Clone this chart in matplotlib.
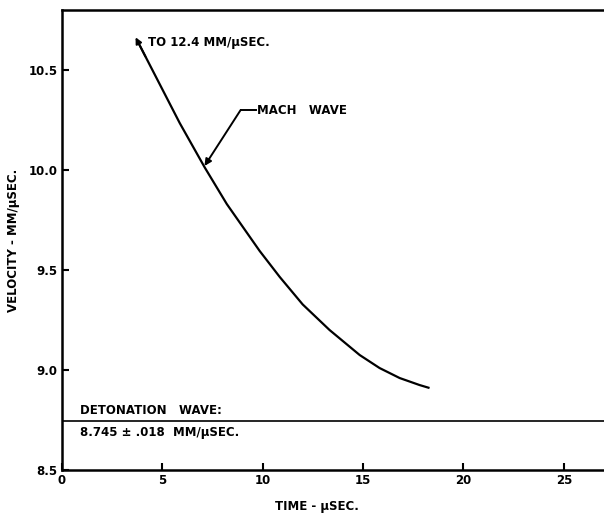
import numpy as np
import matplotlib.pyplot as plt

# Mach wave velocity vs time
time_us = [3.73, 5.87, 7.11, 8.21, 9.85, 10.85, 11.99, 13.33, 14.83,
           15.82, 16.82, 17.81, 18.31]
velocity = [10.651, 10.234, 10.013, 9.830, 9.595, 9.465, 9.328, 9.200, 9.075,
            9.010, 8.960, 8.925, 8.910]

DETONATION_V = 8.745
x_ticks = [0, 5, 10, 15, 20, 25]
y_ticks = [8.5, 9.0, 9.5, 10.0, 10.5]
y_ticklabels = ["8.5", "9.0", "9.5", "10.0", "10.5"]

plt.rcParams["font.family"] = ["DejaVu Sans"]
plt.rcParams["font.weight"] = "bold"

fig = plt.figure(figsize=(6.04, 5.16), dpi=100)
ax = fig.add_axes([0.1026, 0.0891, 0.8974, 0.8915])

ax.plot(time_us, velocity, color="black", lw=1.6, solid_capstyle="butt",
        solid_joinstyle="round")
ax.axhline(DETONATION_V, color="black", lw=1.2)

# arrowhead at the start of the curve, along the first segment
dx = time_us[1] - time_us[0]
dy = velocity[1] - velocity[0]
ax.annotate("", xy=(time_us[0] - 0.03 * dx, velocity[0] - 0.03 * dy),
            xytext=(time_us[0] + 0.2 * dx, velocity[0] + 0.2 * dy),
            arrowprops=dict(arrowstyle="-|>", color="black", lw=1.4,
                            mutation_scale=9, shrinkA=0, shrinkB=0))
ax.text(4.3, 10.64, "TO 12.4 MM/\u03bcSEC.", fontsize=8.5, fontweight="bold",
        va="center", ha="left")

# Mach wave label with leader
ax.annotate("", xy=(7.1, 10.02), xytext=(8.9, 10.30),
            arrowprops=dict(arrowstyle="-|>", color="black", lw=1.4,
                            mutation_scale=10, shrinkA=0, shrinkB=0))
ax.plot([8.9, 9.65], [10.30, 10.30], color="black", lw=1.4)
ax.text(9.7, 10.30, "MACH   WAVE", fontsize=8.5, fontweight="bold",
        va="center", ha="left")

ax.text(0.9, 8.80, "DETONATION   WAVE:", fontsize=8.5, fontweight="bold",
        va="center", ha="left")
ax.text(0.9, 8.687, "8.745 \u00b1 .018  MM/\u03bcSEC.", fontsize=8.5,
        fontweight="bold", va="center", ha="left")

ax.set_xlim(0, 27.0)
ax.set_ylim(8.5, 10.80)
ax.set_xticks(x_ticks)
ax.set_xticklabels([str(t) for t in x_ticks])
ax.set_yticks(y_ticks)
ax.set_yticklabels(y_ticklabels)
ax.tick_params(direction="in", length=5, width=1.5, labelsize=8.5, pad=3)

ax.set_xlabel("TIME - \u03bcSEC.", fontsize=8.5, fontweight="bold")
ax.set_ylabel("VELOCITY - MM/\u03bcSEC.", fontsize=8.5, fontweight="bold")
ax.xaxis.set_label_coords(0.47, -0.065)
ax.yaxis.set_label_coords(-0.078, 0.5)

for side in ["left", "bottom", "top"]:
    ax.spines[side].set_linewidth(1.8)
ax.spines["right"].set_visible(False)

fig.savefig("out.png", dpi=100)
